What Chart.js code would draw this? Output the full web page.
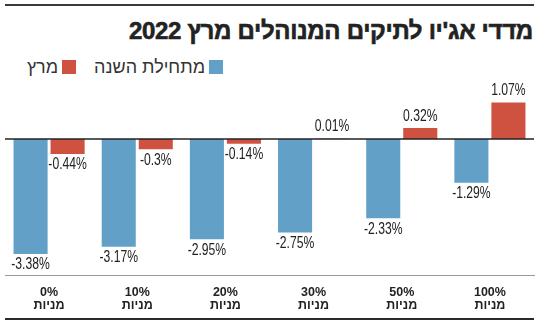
<!DOCTYPE html>
<html lang="he">
<head>
<meta charset="utf-8">
<script src="https://cdn.jsdelivr.net/npm/chart.js@4.4.1/dist/chart.umd.min.js"></script>
<style>
  body { margin: 0; background: #fff; }
  #wrap { position: relative; width: 550px; height: 324px; overflow: hidden; }
  .rule { position: absolute; left: 5px; width: 529px; }
  #title {
    position: absolute; right: 17px; top: 17px; direction: rtl; white-space: nowrap;
    font: bold 24px 'Liberation Sans', sans-serif; color: #222; line-height: 28px;
    letter-spacing: -0.3px; -webkit-text-stroke: 0.6px #222;
  }
  #legend {
    position: absolute; top: 56px; right: 327px; direction: rtl; display: flex;
    font: 18px 'Liberation Sans', sans-serif; color: #333; line-height: 22px;
  }
  #legend .item { display: flex; align-items: center; margin-left: 18px; }
  #legend .box { width: 14px; height: 14px; margin-left: 4px; }
  canvas { position: absolute; left: 0; top: 0; }
</style>
</head>
<body>
<div id="wrap">
  <div class="rule" style="top:4px;height:2px;background:#3a3a3a"></div>
  <div id="title">מדדי אג'יו לתיקים המנוהלים מרץ 2022</div>
  <div id="legend"></div>
  <canvas id="chart" width="550" height="324"></canvas>
  <div class="rule" style="top:318px;height:2px;background:#2a2a2a"></div>
</div>
<script>
// stock share of each managed portfolio
const stockShares = ['0%', '10%', '20%', '30%', '50%', '100%'];
const sinceYearStart = [-3.38, -3.17, -2.95, -2.75, -2.33, -1.29];
const marchOnly = [-0.44, -0.3, -0.14, 0.01, 0.32, 1.07];

const blue = '#62a0c8';
const red = '#cf5241';

const labels = stockShares.map(s => [s, 'מניות']);

const datasets = [
  { label: 'מתחילת השנה', data: sinceYearStart, backgroundColor: blue },
  { label: 'מרץ', data: marchOnly, backgroundColor: red }
];

// legend in html, right to left
const legendEl = document.getElementById('legend');
datasets.forEach(ds => {
  const item = document.createElement('div');
  item.className = 'item';
  item.innerHTML = '<span class="box" style="background:' + ds.backgroundColor + '"></span><span>' + ds.label + '</span>';
  legendEl.appendChild(item);
});

// value labels under negative bars, above positive ones, and the zero line on top
const valueLabels = {
  id: 'valueLabels',
  afterDatasetsDraw(chart) {
    const ctx = chart.ctx;
    const y = chart.scales.y;
    const area = chart.chartArea;
    ctx.save();
    ctx.strokeStyle = '#222';
    ctx.lineWidth = 1.5;
    ctx.beginPath();
    ctx.moveTo(area.left, y.getPixelForValue(0));
    ctx.lineTo(area.right, y.getPixelForValue(0));
    ctx.stroke();

    ctx.font = '16px "Liberation Sans", sans-serif';
    ctx.fillStyle = '#222';
    ctx.textAlign = 'center';
    ctx.textBaseline = 'middle';
    chart.data.datasets.forEach((ds, i) => {
      chart.getDatasetMeta(i).data.forEach((bar, j) => {
        const v = ds.data[j];
        const ty = v < 0 ? bar.y + 11 : bar.y - 12;
        // narrow the glyphs a bit, condensed look
        ctx.save();
        ctx.translate(bar.x, ty);
        ctx.scale(0.76, 1);
        ctx.fillText(v + '%', 0, 0);
        ctx.restore();
      });
    });
    ctx.restore();
  }
};

new Chart(document.getElementById('chart'), {
  type: 'bar',
  data: { labels: labels, datasets: datasets },
  options: {
    responsive: false,
    animation: false,
    layout: { padding: { left: 5, right: 16, top: 88, bottom: 12 } },
    plugins: { legend: { display: false }, tooltip: { enabled: false } },
    datasets: { bar: { categoryPercentage: 0.84, barPercentage: 0.92 } },
    scales: {
      x: {
        grid: { display: true, color: 'transparent', drawTicks: false },
        border: { display: true, color: '#999', width: 1 },
        ticks: {
          color: '#222',
          padding: 11,
          font: { family: 'Liberation Sans', size: 12.5, weight: 'bold', lineHeight: 1.05 }
        },
        afterFit(scale) { scale.height = 37; }
      },
      y: {
        min: -4,
        max: 1.5,
        grid: { display: false, drawTicks: false },
        border: { display: false },
        ticks: { display: false, stepSize: 0.5 }
      }
    }
  },
  plugins: [valueLabels]
});
</script>
</body>
</html>
